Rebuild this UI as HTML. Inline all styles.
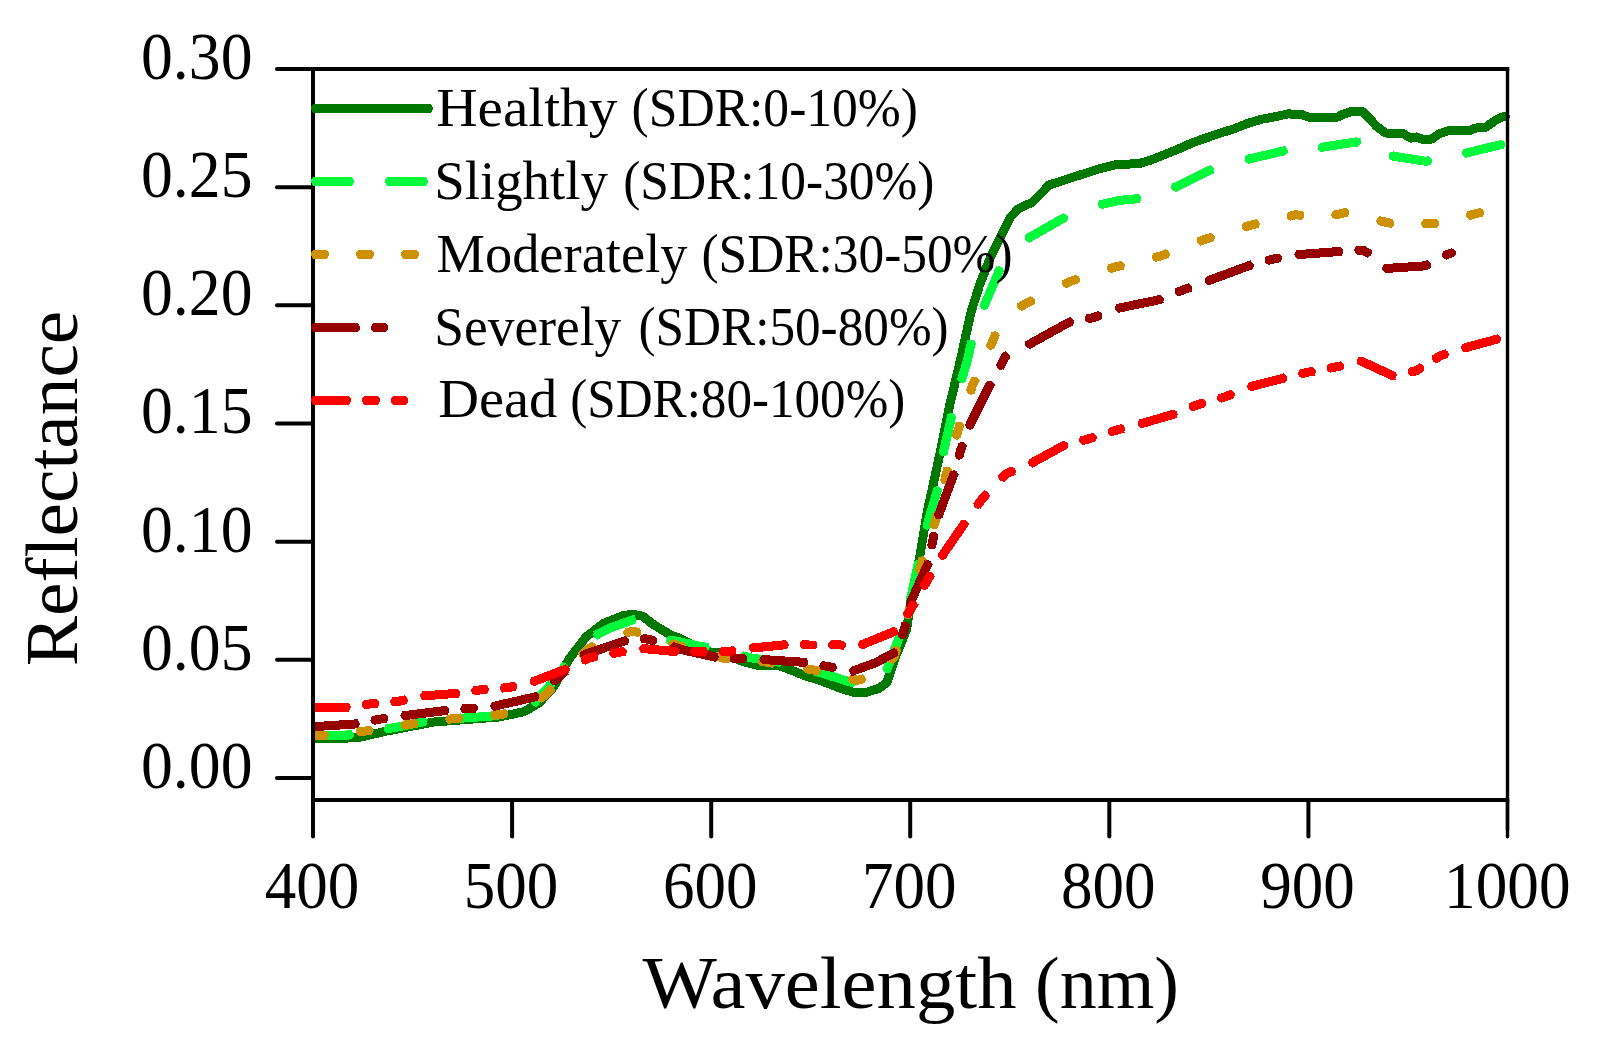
<!DOCTYPE html>
<html lang="en"><head><meta charset="utf-8"><title>Reflectance spectra</title>
<style>html,body{margin:0;padding:0;background:#fff}svg{display:block}text{font-family:"Liberation Serif","DejaVu Serif",serif;fill:#000}</style></head><body>
<svg width="1608" height="1051" viewBox="0 0 1608 1051">
<rect width="1608" height="1051" fill="#fff"/>
<defs><clipPath id="cp"><rect x="313" y="60" width="1198" height="760"/></clipPath></defs>
<g clip-path="url(#cp)" fill="none" stroke-width="9" stroke-linecap="round" stroke-linejoin="round" shape-rendering="crispEdges">
<path d="M313.0,738.4 L315.0,738.4 L357.0,737.9 L387.0,731.0 L434.0,722.0 L499.0,717.0 L524.0,711.7 L539.0,703.0 L553.7,686.9 L568.7,659.5 L586.0,637.0 L603.5,623.4 L623.4,615.5 L633.3,614.2 L643.3,616.5 L651.1,623.0 L663.5,630.8 L672.2,635.8 L679.7,638.3 L689.7,643.6 L707.0,651.7 L719.5,652.6 L744.4,662.0 L756.8,665.1 L779.2,665.7 L794.1,671.3 L806.6,676.3 L819.3,680.0 L839.2,687.9 L855.0,692.8 L867.0,692.2 L879.0,688.3 L887.0,682.3 L894.5,659.4 L906.5,629.6 L911.2,599.7 L919.2,559.9 L927.2,512.2 L939.6,455.1 L949.1,407.6 L960.5,360.0 L971.0,312.2 L980.0,283.7 L991.4,255.1 L1001.5,234.8 L1010.2,217.5 L1018.6,208.6 L1032.2,202.3 L1042.7,191.9 L1049.0,185.0 L1060.5,181.4 L1070.9,177.8 L1085.6,173.3 L1101.3,168.2 L1117.4,164.2 L1137.9,163.9 L1151.6,159.8 L1165.3,154.3 L1178.9,148.8 L1192.6,142.7 L1206.3,137.9 L1220.0,133.1 L1233.7,129.0 L1247.3,123.5 L1261.0,119.4 L1274.7,116.7 L1288.4,113.9 L1301.9,114.6 L1307.9,117.0 L1337.8,117.0 L1342.2,114.6 L1352.7,111.0 L1361.6,111.0 L1369.1,118.1 L1376.6,126.3 L1385.5,133.0 L1403.4,133.7 L1410.9,138.2 L1416.9,137.0 L1422.8,139.4 L1431.8,139.0 L1439.3,133.7 L1448.2,130.7 L1469.1,130.7 L1475.1,128.1 L1485.5,127.5 L1494.5,121.0 L1501.9,117.0 L1505.4,116.7" stroke="#007800"/>
<path d="M315.2,735.4 L325.0,735.4 L349.5,735.0 M388.5,728.7 L422.8,722.0 M461.8,718.2 L464.0,718.0 L496.1,715.7 M535.0,701.7 L548.8,686.9 L563.8,667.4 M597.6,634.4 L610.0,628.0 L631.9,620.2 M670.9,640.0 L698.0,645.8 L705.2,647.2 M744.2,656.2 L750.6,657.8 L778.5,661.9 M817.5,671.9 L819.3,672.3 L849.2,681.7 L851.8,682.4 M887.2,668.8 L891.5,657.0 L896.9,643.5 L899.0,637.4 M910.6,598.4 L910.8,597.7 L917.8,565.9 L918.2,564.1 M927.3,525.1 L927.6,523.7 L937.1,491.3 L937.2,490.8 M943.6,451.8 L943.7,451.3 L951.3,417.5 M961.9,378.5 L967.5,360.0 L971.1,344.2 M984.5,305.2 L984.7,304.6 L999.0,271.3 L999.2,270.9 M1029.1,237.8 L1029.4,237.6 L1063.4,218.2 M1102.4,204.2 L1102.7,204.1 L1120.0,200.3 L1136.7,198.8 M1175.7,187.0 L1210.0,170.2 M1249.0,159.0 L1283.3,151.0 M1322.3,147.2 L1356.4,141.9 L1356.6,142.0 M1393.1,156.1 L1425.8,161.3 L1427.4,161.0 M1466.4,153.0 L1499.7,144.9 L1500.7,144.7" stroke="#00fa3c"/>
<path d="M313.0,735.4 L325.0,735.4 L352.1,734.9 M386.3,729.1 L425.4,721.5 M459.6,718.4 L464.0,718.0 L498.7,715.5 M532.9,703.6 L533.8,703.0 L548.8,686.9 L565.8,664.8 M595.4,635.6 L610.0,628.0 L633.3,619.7 L634.5,619.9 M668.7,638.8 L669.8,639.8 L698.0,645.8 L707.8,647.7 M742.0,655.6 L750.6,657.8 L779.0,662.0 L781.1,662.6 M815.3,671.5 L819.3,672.3 L849.2,681.7 L854.4,683.0 M886.2,670.9 L887.0,669.4 L891.5,657.0 L896.9,643.5 L899.9,634.8 M910.0,600.6 L910.8,597.7 L917.8,565.9 L918.8,561.5 M926.8,527.3 L927.6,523.7 L937.1,491.3 L937.6,488.2 M943.3,454.0 L943.7,451.3 L951.4,417.1 L952.0,414.9 M961.3,380.7 L961.8,379.0 L967.5,360.0 L971.4,342.7 L971.8,341.6 M983.7,307.4 L984.7,304.6 L999.0,271.3 L1000.5,268.3 M1026.9,239.4 L1029.4,237.6 L1063.7,218.0 L1066.0,217.0 M1100.2,204.8 L1102.7,204.1 L1120.0,200.3 L1137.2,198.8 L1139.3,198.4 M1173.5,187.9 L1175.5,187.1 L1210.4,170.0 L1212.6,169.3 M1246.8,159.6 L1248.7,159.1 L1283.6,150.9 L1285.9,150.7 M1320.1,147.4 L1322.1,147.2 L1356.4,141.9 L1359.2,142.8 M1391.2,155.3 L1393.0,156.1 L1425.8,161.3 L1430.0,160.6 M1464.2,153.5 L1466.1,153.1 L1499.7,144.9 L1503.3,144.1" stroke="#00fa3c" stroke-linecap="butt"/>
<path d="M315.2,735.4 L324.2,735.4 M360.1,731.6 L364.7,731.1 L369.1,730.4 M405.0,724.9 L409.5,724.2 L414.0,723.6 M449.9,719.1 L454.7,718.5 L458.9,718.1 M494.8,715.2 L500.2,714.7 L503.8,713.9 M541.2,697.8 L546.3,694.3 L550.0,689.9 M582.9,654.0 L587.3,649.6 L591.9,647.0 M627.8,632.5 L632.1,631.4 L636.8,632.1 M672.7,643.9 L673.1,644.1 L681.7,646.6 M717.6,656.6 L724.5,658.4 L726.6,658.6 M762.5,661.8 L765.0,662.0 L771.5,663.1 M807.4,668.9 L811.5,669.6 L816.4,670.7 M852.3,679.1 L857.1,680.3 L861.3,679.3 M892.2,659.1 L893.9,657.4 L896.1,650.6 M907.9,614.7 L907.9,614.6 L910.2,605.7 M919.7,569.8 L921.8,561.9 L922.2,560.8 M934.2,524.9 L935.2,521.8 L936.6,515.9 M944.8,480.0 L945.7,476.1 L947.1,471.0 M956.7,435.1 L958.0,430.4 L959.4,426.1 M970.9,390.2 L972.3,385.7 L974.4,381.2 M990.8,345.3 L993.3,339.8 L994.8,335.9 M1021.6,306.1 L1025.6,303.7 L1030.6,301.2 M1066.5,283.4 L1070.9,281.2 L1075.5,279.7 M1111.4,268.2 L1115.0,267.0 L1120.4,265.7 M1156.3,257.1 L1160.9,256.0 L1165.3,254.3 M1201.2,240.8 L1206.0,239.0 L1210.2,237.7 M1246.1,226.6 L1250.9,225.1 L1255.1,224.1 M1291.0,215.8 L1295.0,214.9 L1300.0,215.1 M1335.9,214.7 L1344.9,212.8 M1380.8,221.1 L1389.8,223.1 M1425.7,223.7 L1434.7,223.5 M1470.6,215.1 L1479.6,212.7" stroke="#cc9000"/>
<path d="M313.0,735.4 L326.8,735.4 M357.9,731.9 L364.7,731.1 L371.7,730.0 M402.8,725.2 L409.5,724.2 L416.6,723.3 M447.7,719.4 L454.7,718.5 L461.5,717.9 M492.6,715.3 L500.2,714.7 L506.4,713.3 M538.8,699.5 L546.3,694.3 L552.2,687.3 M580.7,656.2 L587.3,649.6 L594.5,645.6 M625.6,633.0 L632.1,631.4 L639.4,632.5 M670.5,643.0 L673.1,644.1 L684.3,647.4 M715.4,656.0 L724.5,658.4 L729.2,658.8 M760.3,661.6 L765.0,662.0 L774.1,663.5 M805.2,668.6 L811.5,669.6 L819.0,671.3 M850.1,678.5 L857.1,680.3 L863.9,678.7 M890.5,660.8 L893.9,657.4 L897.0,648.0 M907.1,616.9 L907.9,614.6 L910.9,603.1 M919.1,572.0 L921.8,561.9 L923.0,558.2 M933.4,527.1 L935.2,521.8 L937.2,513.3 M944.3,482.2 L945.7,476.1 L947.8,468.4 M956.1,437.3 L958.0,430.4 L960.2,423.5 M970.2,392.4 L972.3,385.7 L975.5,378.6 M989.8,347.5 L993.3,339.8 L996.0,333.1 M1019.4,307.5 L1025.6,303.7 L1033.2,299.9 M1064.3,284.5 L1070.9,281.2 L1078.1,278.9 M1109.2,268.9 L1115.0,267.0 L1123.0,265.1 M1154.1,257.6 L1160.9,256.0 L1167.9,253.4 M1199.0,241.6 L1206.0,239.0 L1212.8,236.9 M1243.9,227.3 L1250.9,225.1 L1257.7,223.5 M1288.8,216.3 L1295.0,214.9 L1302.6,215.2 M1333.7,215.2 L1347.5,212.2 M1378.6,220.6 L1392.4,223.6 M1423.5,223.7 L1437.3,223.5 M1468.4,215.7 L1482.2,212.0" stroke="#cc9000" stroke-linecap="butt"/>
<path d="M315.2,726.6 L355.2,724.0 M375.0,720.2 L379.6,719.2 L383.6,718.6 M405.0,715.6 L445.0,710.5 M464.8,708.8 L469.2,708.5 L473.4,708.2 M494.8,706.1 L534.8,697.0 M554.6,680.9 L563.2,673.3 M584.4,654.6 L624.4,641.0 M644.2,638.7 L649.2,639.5 L652.8,640.5 M674.2,647.1 L682.0,649.7 L714.2,656.9 M734.0,658.3 L738.8,658.4 L742.6,658.6 M764.0,659.6 L765.5,659.7 L804.0,662.3 M823.8,665.8 L829.3,666.8 L832.4,667.4 M853.8,670.7 L875.0,663.0 L893.8,653.0 M902.5,634.7 L903.9,630.5 L905.0,626.1 M910.5,604.7 L911.8,599.7 L927.5,564.7 M932.0,544.9 L932.9,539.8 L933.7,536.3 M938.8,514.9 L939.0,514.1 L953.6,474.9 M959.3,455.1 L960.9,449.4 L962.0,446.5 M969.9,425.1 L970.4,423.7 L989.7,385.1 M1000.9,365.3 L1001.8,363.8 L1005.3,356.7 M1029.6,344.1 L1069.4,322.1 L1069.6,322.1 M1089.4,318.4 L1093.5,317.6 L1098.0,315.9 M1119.4,308.1 L1119.9,307.9 L1159.4,299.7 L1159.4,299.7 M1179.2,291.6 L1183.0,290.0 L1187.8,288.2 M1209.2,280.4 L1209.4,280.3 L1249.2,265.6 M1269.0,260.1 L1273.0,259.0 L1277.6,258.2 M1299.0,254.6 L1299.7,254.5 L1339.0,251.5 M1358.8,250.3 L1362.8,250.1 L1367.4,252.6 M1386.8,268.2 L1387.0,268.4 L1425.8,265.8 L1426.8,265.3 M1446.6,254.7 L1447.0,254.5 L1451.5,253.0" stroke="#960000"/>
<path d="M313.0,726.7 L357.8,723.8 M372.8,720.7 L379.6,719.2 L386.2,718.3 M402.8,715.9 L447.6,710.2 M462.6,709.0 L469.2,708.5 L476.0,708.0 M492.6,706.6 L537.4,696.4 M552.4,682.8 L565.8,671.0 M582.2,655.4 L627.0,640.1 M642.0,638.3 L649.2,639.5 L655.4,641.3 M672.0,646.3 L682.0,649.7 L716.8,657.5 M731.8,658.2 L738.8,658.4 L745.2,658.7 M761.8,659.5 L765.5,659.7 L805.3,662.4 L806.6,662.6 M821.6,665.4 L829.3,666.8 L835.0,668.0 M851.6,671.2 L852.1,671.3 L875.0,663.0 L896.4,651.7 M901.8,636.9 L903.9,630.5 L905.7,623.5 M910.0,606.9 L911.8,599.7 L928.7,562.1 M931.5,547.1 L932.9,539.8 L934.3,533.7 M938.3,517.1 L939.0,514.1 L954.2,473.2 L954.5,472.3 M958.7,457.3 L960.9,449.4 L962.9,443.9 M969.1,427.3 L970.4,423.7 L990.4,383.8 L991.1,382.5 M999.7,367.5 L1001.8,363.8 L1005.6,356.0 L1007.8,354.9 M1027.1,345.4 L1029.4,344.2 L1069.4,322.1 L1072.2,321.6 M1087.2,318.8 L1093.5,317.6 L1100.6,315.0 M1117.2,308.9 L1119.9,307.9 L1159.4,299.7 L1162.0,298.6 M1177.0,292.5 L1183.0,290.0 L1190.4,287.3 M1207.0,281.2 L1209.4,280.3 L1249.7,265.4 L1251.8,264.8 M1266.8,260.7 L1273.0,259.0 L1280.2,257.8 M1296.8,255.0 L1299.7,254.5 L1339.3,251.5 L1341.6,251.4 M1356.6,250.5 L1362.8,250.1 L1370.0,254.0 L1370.0,254.0 M1384.9,266.6 L1387.0,268.4 L1425.8,265.8 L1429.4,263.9 M1444.4,255.9 L1447.0,254.5 L1451.5,253.0" stroke="#960000" stroke-linecap="butt"/>
<path d="M315.2,707.3 L346.2,707.3 M366.2,704.6 L370.9,703.8 L374.9,703.4 M394.7,701.7 L398.8,701.3 L403.4,700.2 M424.7,695.8 L455.7,693.4 M475.7,690.6 L480.3,689.9 L484.4,689.6 M504.2,688.0 L508.5,687.6 L512.9,686.6 M534.2,681.3 L565.2,669.3 M585.2,660.0 L589.8,657.8 L593.9,657.0 M613.7,653.3 L617.9,652.5 L622.4,651.7 M643.7,648.6 L674.7,651.5 M694.7,651.6 L699.6,651.6 L703.4,651.6 M723.2,651.6 L727.6,651.6 L731.9,651.0 M753.2,647.9 L784.2,644.9 M804.2,644.9 L809.0,645.0 L812.9,645.0 M832.7,644.9 L837.2,644.9 L841.4,645.0 M862.7,644.4 L893.7,631.8 M907.9,613.7 L911.8,607.7 L913.3,605.0 M924.6,585.2 L928.8,577.8 L929.6,576.5 M942.7,555.2 L944.0,553.0 L963.9,524.2 M978.3,504.2 L982.8,498.0 L985.1,495.6 M1002.9,477.0 L1006.0,473.8 L1011.3,471.6 M1032.6,462.6 L1063.6,445.6 L1063.6,445.6 M1083.6,440.2 L1088.1,439.0 L1092.3,437.7 M1112.1,431.5 L1116.0,430.3 L1120.8,429.0 M1142.1,423.4 L1142.5,423.3 L1173.1,414.4 M1193.1,406.5 L1197.0,404.9 L1201.8,403.5 M1221.6,397.9 L1225.1,396.9 L1230.3,394.8 M1251.6,386.4 L1282.6,378.4 M1302.6,373.5 L1306.9,372.4 L1311.3,371.6 M1331.1,367.9 L1334.9,367.2 L1339.8,366.1 M1361.1,361.2 L1361.3,361.2 L1392.1,375.4 M1412.1,371.7 L1415.8,370.9 L1420.0,368.3 M1436.4,358.2 L1440.4,355.7 L1444.3,354.5 M1465.6,347.7 L1496.4,339.3 L1496.6,339.3" stroke="#ff0000"/>
<path d="M313.0,707.3 L348.8,707.3 M364.0,705.0 L370.9,703.8 L377.5,703.2 M392.5,701.9 L398.8,701.3 L406.0,699.6 M422.5,696.0 L458.3,693.2 M473.5,691.0 L480.3,689.9 L487.0,689.4 M502.0,688.1 L508.5,687.6 L515.5,685.9 M532.0,682.0 L532.6,681.9 L567.8,668.3 M583.0,661.1 L589.8,657.8 L596.5,656.5 M611.5,653.7 L617.9,652.5 L625.0,651.2 M641.5,648.4 L676.0,651.6 L677.3,651.6 M692.5,651.6 L699.6,651.6 L706.0,651.6 M721.0,651.6 L727.6,651.6 L734.5,650.6 M751.0,648.1 L752.0,648.0 L786.8,644.6 M802.0,644.9 L809.0,645.0 L815.5,645.0 M830.5,644.9 L837.2,644.9 L844.0,645.1 M860.5,645.3 L896.3,630.7 M906.4,615.9 L911.8,607.7 L914.8,602.4 M923.3,587.4 L928.8,577.8 L931.2,573.9 M941.3,557.4 L944.0,553.0 L965.6,521.8 L965.7,521.6 M976.7,506.4 L982.8,498.0 L987.4,493.2 M1000.9,479.1 L1006.0,473.8 L1013.9,470.5 M1030.4,463.6 L1032.2,462.8 L1063.6,445.6 L1066.2,444.9 M1081.4,440.8 L1088.1,439.0 L1094.9,436.9 M1109.9,432.2 L1116.0,430.3 L1123.4,428.3 M1139.9,424.0 L1142.5,423.3 L1173.6,414.3 L1175.7,413.5 M1190.9,407.4 L1197.0,404.9 L1204.4,402.8 M1219.4,398.5 L1225.1,396.9 L1232.9,393.8 M1249.4,387.2 L1251.5,386.4 L1283.6,378.1 L1285.2,377.7 M1300.4,374.0 L1306.9,372.4 L1313.9,371.1 M1328.9,368.3 L1334.9,367.2 L1342.4,365.5 M1358.9,361.7 L1361.3,361.2 L1392.7,375.7 L1394.7,375.3 M1409.9,372.1 L1415.8,370.9 L1422.1,367.0 M1434.6,359.3 L1440.4,355.7 L1446.9,353.6 M1463.4,348.3 L1465.1,347.8 L1496.4,339.3 L1499.2,338.7" stroke="#ff0000" stroke-linecap="butt"/>
</g>
<g stroke="#000" stroke-width="4" stroke-linecap="round" fill="none">
<path d="M277,69 H313"/>
<path d="M311,69 H1509.2" stroke-linecap="butt"/>
<path d="M313,67 V830" stroke-linecap="butt"/>
<path d="M313,800 V836.5"/>
<path d="M311,800 H1509.2" stroke-linecap="butt"/>
<path d="M1507.5,67 V830" stroke-width="3.4" stroke-linecap="butt"/>
<path d="M1507.5,800 V836.8" stroke-width="3.4"/>
<path d="M277,778.0 H313"/>
<path d="M277,659.8 H313"/>
<path d="M277,541.7 H313"/>
<path d="M277,423.5 H313"/>
<path d="M277,305.3 H313"/>
<path d="M277,187.2 H313"/>
<path d="M512.1,800 V836.5"/>
<path d="M711.2,800 V836.5"/>
<path d="M910.2,800 V836.5"/>
<path d="M1109.3,800 V836.5"/>
<path d="M1308.4,800 V836.5"/>
</g>
<g fill="none" stroke-width="9" stroke-linecap="round" shape-rendering="crispEdges">
<path d="M315.5,108.5 H428.5" stroke="#007800"/>
<path d="M315.5,181.5 h34 m40,0 h34" stroke="#00fa3c"/>
<path d="M315.5,254.4 h9 m36,0 h9 m36,0 h9" stroke="#cc9000"/>
<path d="M315.5,327.6 h40 m20,0 h8.5" stroke="#960000"/>
<path d="M315.5,400.4 h31 m20,0 h9 m19.5,0 h9" stroke="#ff0000"/>
<path d="M313.1,181.5 h38.8 m35.2,0 h38.8" stroke="#00fa3c" stroke-linecap="butt"/>
<path d="M313.1,254.4 h13.8 m31.2,0 h13.8 m31.2,0 h13.8" stroke="#cc9000" stroke-linecap="butt"/>
<path d="M313.1,327.6 h44.8 m15.2,0 h13.3" stroke="#960000" stroke-linecap="butt"/>
<path d="M313.1,400.4 h35.8 m15.2,0 h13.8 m14.7,0 h13.8" stroke="#ff0000" stroke-linecap="butt"/>
<path d="M313.1,108.5 H430.9" stroke="#007800" stroke-linecap="butt"/>
</g>
<text y="126.0" font-size="54.5"><tspan x="436.2" textLength="181.1" lengthAdjust="spacingAndGlyphs">Healthy</tspan> <tspan x="631.6" textLength="286.4" lengthAdjust="spacingAndGlyphs">(SDR:0-10%)</tspan></text>
<text y="199.1" font-size="54.5"><tspan x="434.2" textLength="173.8" lengthAdjust="spacingAndGlyphs">Slightly</tspan> <tspan x="623.2" textLength="311.3" lengthAdjust="spacingAndGlyphs">(SDR:10-30%)</tspan></text>
<text y="271.9" font-size="54.5"><tspan x="436.5" textLength="251.0" lengthAdjust="spacingAndGlyphs">Moderately</tspan> <tspan x="701.5" textLength="311.0" lengthAdjust="spacingAndGlyphs">(SDR:30-50%)</tspan></text>
<text y="344.6" font-size="54.5"><tspan x="434.3" textLength="187.0" lengthAdjust="spacingAndGlyphs">Severely</tspan> <tspan x="638.5" textLength="310.1" lengthAdjust="spacingAndGlyphs">(SDR:50-80%)</tspan></text>
<text y="417.4" font-size="54.5"><tspan x="438.2" textLength="119.1" lengthAdjust="spacingAndGlyphs">Dead</tspan> <tspan x="570.2" textLength="335.1" lengthAdjust="spacingAndGlyphs">(SDR:80-100%)</tspan></text>
<text x="141.0" y="787.8" font-size="68.0" textLength="111.5" lengthAdjust="spacingAndGlyphs">0.00</text>
<text x="141.0" y="669.6" font-size="68.0" textLength="111.5" lengthAdjust="spacingAndGlyphs">0.05</text>
<text x="141.0" y="551.5" font-size="68.0" textLength="111.5" lengthAdjust="spacingAndGlyphs">0.10</text>
<text x="141.0" y="433.3" font-size="68.0" textLength="111.5" lengthAdjust="spacingAndGlyphs">0.15</text>
<text x="141.0" y="315.1" font-size="68.0" textLength="111.5" lengthAdjust="spacingAndGlyphs">0.20</text>
<text x="141.0" y="197.0" font-size="68.0" textLength="111.5" lengthAdjust="spacingAndGlyphs">0.25</text>
<text x="141.0" y="78.8" font-size="68.0" textLength="111.5" lengthAdjust="spacingAndGlyphs">0.30</text>
<text x="264.8" y="907.8" font-size="68.0" textLength="94.5" lengthAdjust="spacingAndGlyphs">400</text>
<text x="463.8" y="907.8" font-size="68.0" textLength="94.5" lengthAdjust="spacingAndGlyphs">500</text>
<text x="662.9" y="907.8" font-size="68.0" textLength="94.5" lengthAdjust="spacingAndGlyphs">600</text>
<text x="862.0" y="907.8" font-size="68.0" textLength="94.5" lengthAdjust="spacingAndGlyphs">700</text>
<text x="1061.1" y="907.8" font-size="68.0" textLength="94.5" lengthAdjust="spacingAndGlyphs">800</text>
<text x="1260.2" y="907.8" font-size="68.0" textLength="94.5" lengthAdjust="spacingAndGlyphs">900</text>
<text x="1444.0" y="907.8" font-size="68.0" textLength="126.5" lengthAdjust="spacingAndGlyphs">1000</text>
<text y="1008.2" font-size="75"><tspan x="642.5" textLength="374" lengthAdjust="spacingAndGlyphs">Wavelength</tspan> <tspan x="1035" textLength="144" lengthAdjust="spacingAndGlyphs">(nm)</tspan></text>
<text transform="translate(77.2,666.2) rotate(-90)" font-size="75" textLength="355.5" lengthAdjust="spacingAndGlyphs">Reflectance</text>
</svg></body></html>
